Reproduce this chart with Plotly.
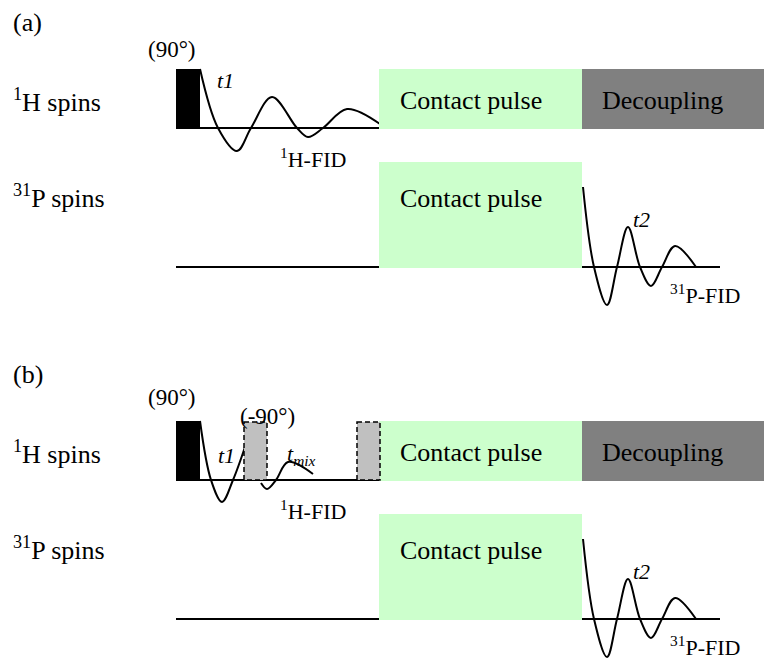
import plotly.graph_objects as go

# ---------------- data (diagram units: time axis -> x, level axis -> y) ----------------
PANEL_LABELS = ["(a)", "(b)"]
PANEL_SHIFT = [0, 352]                       # vertical offset of each panel
CHANNEL_LABELS = ["<sup>1</sup>H spins", "<sup>31</sup>P spins"]
CHANNEL_BASE = [128, 267]                    # baseline level of each channel
CHANNEL_LINE_END = [380, 720]                # end time of each baseline
LINE_START = 176

PULSE90 = [176, 200]                         # 90° pulse interval
PULSE_HEIGHT = 59
MINUS90_PULSES = [[244, 267], [357, 380]]    # (-90°) pulses, panel (b) only
CONTACT = [379, 582]
CONTACT_H_HEIGHT = 59
CONTACT_P_HEIGHT = 105
DECOUPLING = [582, 764]

# 1H FID, panel (a)
H_FID_T = [200, 218, 237, 251, 272, 297, 308, 323, 347, 380]
H_FID_A = [59, 0, -23, 0, 31, 0, -9, 0, 19, 4]
# 1H FID, panel (b): t1 part and t_mix part
H_T1_T = [200, 211, 222, 233, 246]
H_T1_A = [59, 0, -22, 0, 36]
H_MIX_T = [261, 267, 276, 288, 313]
H_MIX_A = [-3, -9, 0, 18, 6]
# 31P FID (both panels)
P_FID_T = [583, 594, 607, 617, 628, 640, 651, 662, 675, 696]
P_FID_A = [80, 0, -38, 0, 40, 0, -19, 0, 21, 0]

FONT = "Liberation Serif"
GREEN = "#CCFFCC"
DARK = "#808080"
LIGHT = "#C0C0C0"

fig = go.Figure()
shapes = []
ann = []


def text(x, y, s, size=26, italic=False):
    if italic:
        s = "<i>" + s + "</i>"
    ann.append(dict(x=x, y=y, xref="x", yref="y", text=s, showarrow=False,
                    xanchor="left", yanchor="middle",
                    font=dict(family=FONT, size=size, color="black")))


def rect(x0, x1, y0, y1, fill, dash=None):
    line = dict(width=0) if dash is None else dict(width=1.5, color="black", dash=dash)
    shapes.append(dict(type="rect", xref="x", yref="y", x0=x0, x1=x1, y0=y0, y1=y1,
                       fillcolor=fill, line=line, layer="above"))


def curve(ts, amps, base):
    fig.add_trace(go.Scatter(x=ts, y=[base - a for a in amps], mode="lines",
                             line=dict(color="black", width=2, shape="spline", smoothing=1.0),
                             hoverinfo="skip", showlegend=False))


for p, (plabel, shift) in enumerate(zip(PANEL_LABELS, PANEL_SHIFT)):
    hb = CHANNEL_BASE[0] + shift
    pb = CHANNEL_BASE[1] + shift
    # baselines
    for base, xend in zip([hb, pb], CHANNEL_LINE_END):
        fig.add_trace(go.Scatter(x=[LINE_START, xend], y=[base, base], mode="lines",
                                 line=dict(color="black", width=2),
                                 hoverinfo="skip", showlegend=False))
    # FIDs
    if p == 0:
        curve(H_FID_T, H_FID_A, hb)
    else:
        curve(H_T1_T, H_T1_A, hb)
        curve(H_MIX_T, H_MIX_A, hb)
    curve(P_FID_T, P_FID_A, pb)

    # blocks
    rect(PULSE90[0], PULSE90[1], hb - PULSE_HEIGHT, hb + 1, "black")
    rect(CONTACT[0], CONTACT[1], hb - CONTACT_H_HEIGHT, hb + 1, GREEN)
    rect(DECOUPLING[0], DECOUPLING[1], hb - CONTACT_H_HEIGHT, hb + 1, DARK)
    rect(CONTACT[0], CONTACT[1], pb - CONTACT_P_HEIGHT, pb + 1, GREEN)
    if p == 1:
        for x0, x1 in MINUS90_PULSES:
            rect(x0, x1, hb - 58, hb, LIGHT, dash="5px,3px")

    # texts
    text(11, 22 + shift, plabel)
    text(146, 49 + shift - (4 if p == 1 else 0), "(90°)", size=23)
    text(11, 100 + shift, CHANNEL_LABELS[0])
    text(11, 196 + shift, CHANNEL_LABELS[1])
    text(398, 100 + shift, "Contact pulse")
    text(600, 100 + shift, "Decoupling")
    text(398, 198 + shift, "Contact pulse")
    text(631, 219 + shift, "t2", size=22, italic=True)
    text(668, 294 + shift, "<sup>31</sup>P-FID", size=22)
    if p == 0:
        text(215, 80, "t1", size=22, italic=True)
        text(278, 158, "<sup>1</sup>H-FID", size=22)
    else:
        text(238, 64 + shift, "(-90°)", size=23)
        text(216, 103 + shift, "t1", size=22, italic=True)
        text(285, 103 + shift, "t<sub>mix</sub>", size=22, italic=True)
        text(278, 158 + shift, "<sup>1</sup>H-FID", size=22)

fig.update_layout(
    width=764, height=662, margin=dict(l=0, r=0, t=0, b=0),
    font=dict(family=FONT, size=26, color="black"),
    paper_bgcolor="white", plot_bgcolor="white",
    xaxis=dict(range=[0, 764], visible=False, fixedrange=True),
    yaxis=dict(range=[662, 0], visible=False, fixedrange=True),
    shapes=shapes, annotations=ann, showlegend=False,
)
fig.write_html("out.html", config={"displayModeBar": False},
               post_script="document.body.style.margin='0px';document.body.style.overflow='hidden';")
